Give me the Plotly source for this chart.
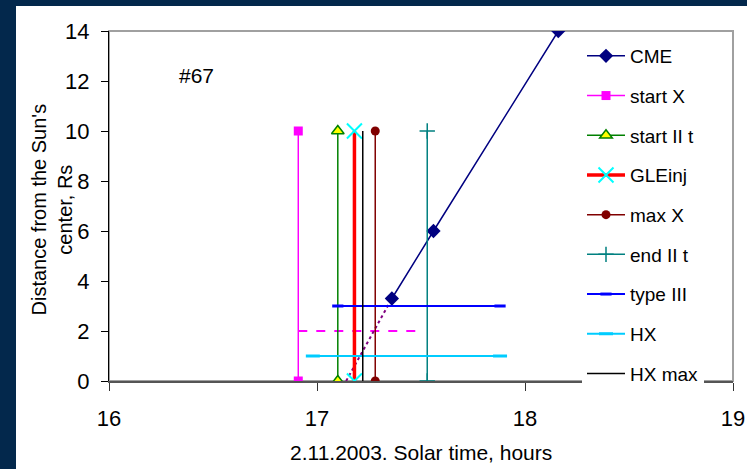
import plotly.graph_objects as go

# ---- data ----
cme_x = [17.36, 17.56, 18.16]
cme_y = [3.3, 6.0, 14.0]
vert_y = [0, 10]
start_x_t = 16.91
start_ii_t = 17.10
gle_inj_t = 17.18
hx_max_t = 17.22
max_x_t = 17.28
end_ii_t = 17.53
type_iii_x = [17.10, 17.88]
type_iii_y = [3, 3]
hx_x = [16.98, 17.88]
hx_y = [1, 1]
startx_level_x = [16.91, 17.49]
startx_level_y = [2, 2]
extrap_x = [17.14, 17.36]
extrap_y = [0, 3.3]
x_ticks = [16, 17, 18, 19]
y_ticks = [0, 2, 4, 6, 8, 10, 12, 14]

FONT = "Liberation Sans, Arial, sans-serif"
W, H = 747, 469
L, R, T, B = 109, 14, 31, 88
PW, PH = W - L - R, H - T - B

fig = go.Figure()

# unlabeled helper lines
fig.add_trace(go.Scatter(x=startx_level_x, y=startx_level_y, mode="lines",
                         line=dict(color="#FF00FF", width=2, dash="dash"), showlegend=False))
fig.add_trace(go.Scatter(x=extrap_x, y=extrap_y, mode="lines",
                         line=dict(color="#800080", width=2, dash="dot"), showlegend=False))

def vline(t, name, color, width, marker, group):
    fig.add_trace(go.Scatter(x=[t, t], y=vert_y, name=name, mode="lines+markers" if marker else "lines",
                             line=dict(color=color, width=width), marker=marker,
                             legendgroup=str(group), legendrank=group))

fig.add_trace(go.Scatter(x=cme_x, y=cme_y, name="CME", mode="lines+markers",
                         line=dict(color="#000080", width=1.5),
                         marker=dict(symbol="diamond", size=11, color="#000080"),
                         legendgroup="1", legendrank=1))
vline(start_x_t, "start X", "#FF00FF", 1.5, dict(symbol="square", size=9, color="#FF00FF"), 2)
vline(start_ii_t, "start II t", "#008000", 1.5,
      dict(symbol="triangle-up", size=11, color="#FFFF00", line=dict(color="#008000", width=1.5)), 3)
vline(gle_inj_t, "GLEinj", "#FF0000", 3.5,
      dict(symbol="x-thin", size=15, color="#00FFFF", line=dict(color="#00FFFF", width=2)), 4)
vline(max_x_t, "max X", "#800000", 1.5, dict(symbol="circle", size=9, color="#800000"), 5)
vline(end_ii_t, "end II t", "#008080", 1.5,
      dict(symbol="cross-thin", size=11, color="#008080", line=dict(color="#008080", width=1.5)), 6)
fig.add_trace(go.Scatter(x=type_iii_x, y=type_iii_y, name="type III", mode="lines+markers",
                         line=dict(color="#0000FF", width=2),
                         marker=dict(symbol="line-ew", size=8, color="#0000FF",
                                     line=dict(color="#0000FF", width=3)),
                         legendgroup="7", legendrank=7))
fig.add_trace(go.Scatter(x=hx_x, y=hx_y, name="HX", mode="lines+markers",
                         line=dict(color="#00CCFF", width=2),
                         marker=dict(symbol="line-ew", size=10, color="#00CCFF",
                                     line=dict(color="#00CCFF", width=3)),
                         legendgroup="8", legendrank=8))
vline(hx_max_t, "HX max", "#000000", 1.5, None, 9)

# plot-area border
fig.add_shape(type="rect", xref="paper", yref="paper", x0=0, x1=1, y0=0, y1=1,
              line=dict(color="#A0A0A0", width=2), layer="below")

fig.update_layout(
    width=W, height=H,
    margin=dict(l=L, r=R, t=T, b=B, autoexpand=False),
    paper_bgcolor="white", plot_bgcolor="white",
    font=dict(family=FONT, size=21, color="#000000"),
    showlegend=True,
    legend=dict(x=(582 - L) / PW, y=1 - (37 - T) / PH, xanchor="left", yanchor="top",
                bgcolor="white", borderwidth=0, itemwidth=38, maxheight=440,
                font=dict(family=FONT, size=19, color="#000000"),
                traceorder="grouped", tracegroupgap=12),
    xaxis=dict(range=[16, 19], tickvals=x_ticks, showgrid=False, zeroline=False,
               showline=True, linecolor="#555555", linewidth=2,
               ticks="outside", ticklen=8, tickcolor="#333333",
               tickfont=dict(size=22), ticklabelstandoff=9),
    yaxis=dict(range=[0, 14], tickvals=y_ticks, showgrid=False, zeroline=False,
               showline=True, linecolor="#000000", linewidth=1,
               ticks="outside", ticklen=7, tickcolor="#000000",
               tickfont=dict(size=22), ticklabelstandoff=7),
    annotations=[
        dict(text="#67", x=16.423, y=12.24, xref="x", yref="y", showarrow=False,
             font=dict(size=21)),
        dict(text="Distance from the Sun's<br>center, Rs", x=(51 - L) / PW, y=0.49,
             xref="paper", yref="paper", textangle=-90, showarrow=False,
             xanchor="center", yanchor="middle", font=dict(size=20)),
        dict(text="2.11.2003. Solar time, hours", x=0.5, y=(381 - 452) / PH,
             xref="paper", yref="paper", showarrow=False, xanchor="center", yanchor="middle",
             font=dict(size=21)),
    ],
)

# navy frame strips
fig.add_shape(type="rect", xref="paper", yref="paper",
              x0=-L / PW, x1=(16 - L) / PW, y0=-B / PH, y1=1 + T / PH,
              fillcolor="#03284C", line=dict(width=0), layer="above")
fig.add_shape(type="rect", xref="paper", yref="paper",
              x0=-L / PW, x1=1 + R / PW, y0=1 + (T - 6) / PH, y1=1 + T / PH,
              fillcolor="#03284C", line=dict(width=0), layer="above")

fig.write_html("out.html", config={"displayModeBar": False},
               post_script="document.body.style.margin='0';")
